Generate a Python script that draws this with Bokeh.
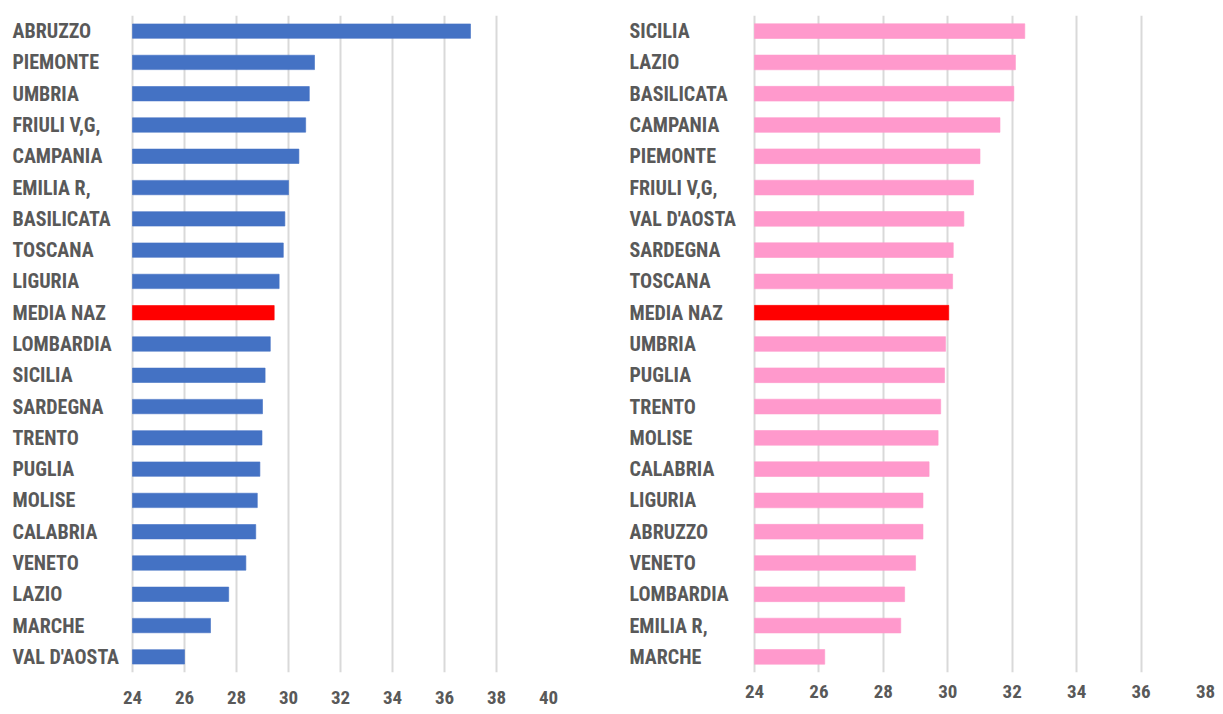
from bokeh.plotting import figure
from bokeh.models import ColumnDataSource, LabelSet, Range1d, FixedTicker
from bokeh.layouts import row
from bokeh.core.properties import value
from bokeh.embed import file_html
from bokeh.resources import INLINE

left_regions = ["ABRUZZO", "PIEMONTE", "UMBRIA", "FRIULI V,G,", "CAMPANIA", "EMILIA R,",
                "BASILICATA", "TOSCANA", "LIGURIA", "MEDIA NAZ", "LOMBARDIA", "SICILIA",
                "SARDEGNA", "TRENTO", "PUGLIA", "MOLISE", "CALABRIA", "VENETO", "LAZIO",
                "MARCHE", "VAL D'AOSTA"]
left_values = [37.0, 31.0, 30.8, 30.66, 30.4, 30.0, 29.86, 29.8, 29.64, 29.45, 29.3, 29.1,
               29.0, 28.98, 28.9, 28.8, 28.74, 28.36, 27.7, 27.0, 26.0]
left_ticks = [24, 26, 28, 30, 32, 34, 36, 38, 40]

right_regions = ["SICILIA", "LAZIO", "BASILICATA", "CAMPANIA", "PIEMONTE", "FRIULI V,G,",
                 "VAL D'AOSTA", "SARDEGNA", "TOSCANA", "MEDIA NAZ", "UMBRIA", "PUGLIA",
                 "TRENTO", "MOLISE", "CALABRIA", "LIGURIA", "ABRUZZO", "VENETO",
                 "LOMBARDIA", "EMILIA R,", "MARCHE"]
right_values = [32.39, 32.1, 32.05, 31.62, 31.0, 30.8, 30.5, 30.17, 30.15, 30.03, 29.93, 29.9,
                29.78, 29.7, 29.42, 29.23, 29.23, 29.0, 28.66, 28.54, 26.18]
right_ticks = [24, 26, 28, 30, 32, 34, 36, 38]

HIGHLIGHT = "MEDIA NAZ"
FONT = "'Roboto Condensed', 'Liberation Sans Narrow', Roboto, sans-serif"
TEXT_COLOR = "#595959"


def make_chart(regions, values, ticks, base_color, width, height, label_area, border_right,
               border_top, border_bottom, label_x, bar_height, standoff):
    n = len(regions)
    ys = [n - 1 - i for i in range(n)]
    colors = ["#FF0000" if r == HIGHLIGHT else base_color for r in regions]
    src = ColumnDataSource(dict(y=ys, v=values, name=regions, color=colors))
    # the frame also spans the label area on the left (no grid lines there)
    bar_px = width - border_right - label_area
    start = ticks[0] - label_area * (ticks[-1] - ticks[0]) / bar_px
    p = figure(width=width, height=height, output_backend="svg", toolbar_location=None,
               x_range=Range1d(start, ticks[-1]), y_range=Range1d(-0.5, n - 0.5),
               min_border_left=0, min_border_right=border_right,
               min_border_top=border_top, min_border_bottom=border_bottom)
    p.outline_line_color = None
    p.background_fill_color = "white"
    p.border_fill_color = "white"
    p.ygrid.grid_line_color = None
    p.xgrid.grid_line_color = "#d9d9d9"
    p.xgrid.grid_line_width = 2
    p.yaxis.visible = False
    p.xaxis.ticker = FixedTicker(ticks=ticks)
    p.xaxis.axis_line_color = None
    p.xaxis.major_tick_line_color = None
    p.xaxis.minor_tick_line_color = None
    p.xaxis.major_tick_out = 0
    p.xaxis.major_tick_in = 0
    p.xaxis.major_label_text_font = FONT
    p.xaxis.major_label_text_font_style = "bold"
    p.xaxis.major_label_text_font_size = "19px"
    p.xaxis.major_label_text_color = TEXT_COLOR
    p.xaxis.major_label_standoff = standoff

    p.hbar(y="y", left=ticks[0], right="v", height=bar_height, source=src,
           fill_color="color", line_color="color", line_alpha=0.6)

    labels = LabelSet(x=label_x, y="y", x_units="screen", text="name", source=src,
                      text_font=value(FONT), text_font_style="bold",
                      text_font_size="20px", text_color=TEXT_COLOR,
                      text_align="left", text_baseline="middle")
    p.add_layout(labels)
    return p


left = make_chart(left_regions, left_values, left_ticks, "#4472C4", 610, 714,
                  132, 62, 12, 42, 12, 0.46, 18)
right = make_chart(right_regions, right_values, right_ticks, "#FF99CC", 613, 714,
                   144, 18, 15, 36, 19, 0.47, 12)

layout = row(left, right)
open("out.html", "w").write(file_html(layout, INLINE))
